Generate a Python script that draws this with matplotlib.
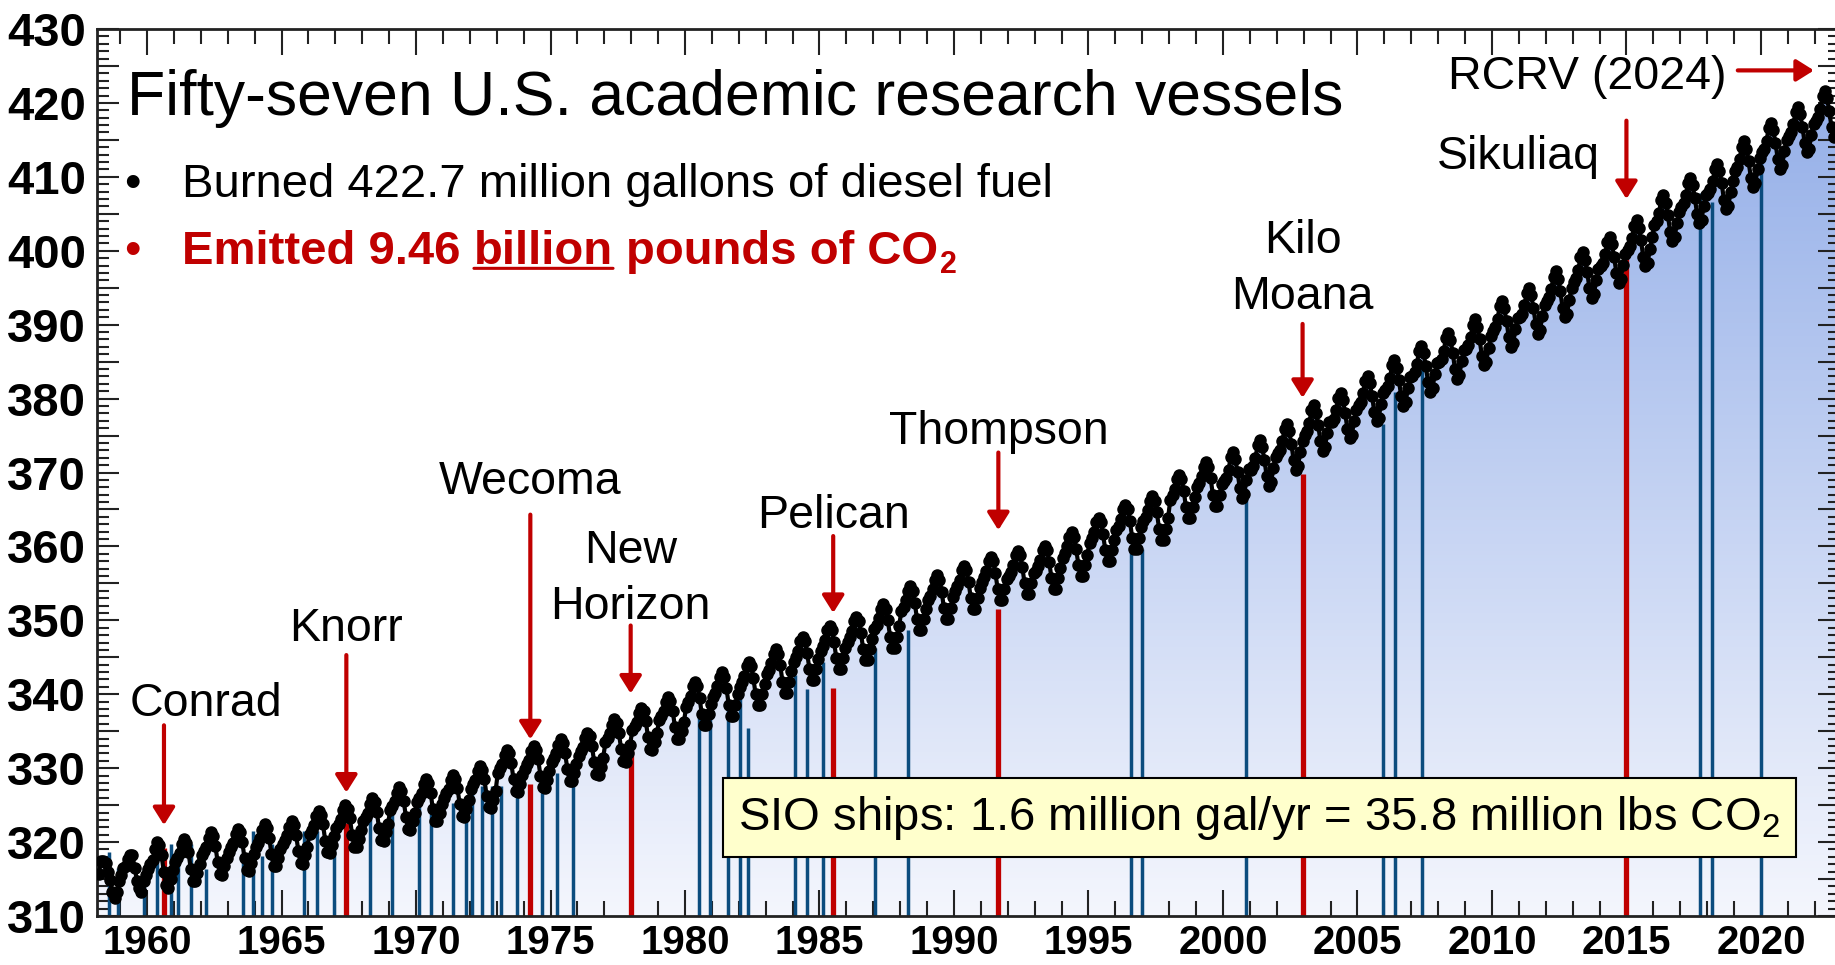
import matplotlib
matplotlib.use("Agg")
import matplotlib.pyplot as plt
import numpy as np
from matplotlib.colors import LinearSegmentedColormap
from matplotlib.ticker import MultipleLocator, FuncFormatter

# Monthly CO2 (ppm), starting March 1958
co2_1958 = [315.7, 317.5, 317.5, 317.2, 315.9, 314.9, 313.2, 312.4, 313.3, 314.7]
co2_rows = [
    [315.6, 316.5, 316.7, 317.7, 318.3, 318.2, 316.5, 314.8, 313.8, 313.3, 314.8, 315.6],  # 1959
    [316.4, 317.0, 317.6, 319.0, 320.0, 319.6, 318.2, 315.9, 314.2, 313.8, 315.0, 316.2],
    [317.3, 317.9, 318.5, 319.7, 320.4, 319.9, 318.6, 316.4, 314.8, 314.7, 315.8, 317.0],
    [318.2, 318.8, 319.4, 320.6, 321.3, 320.8, 319.5, 317.3, 315.7, 315.6, 316.7, 317.9],
    [318.7, 319.3, 319.9, 321.1, 321.8, 321.3, 320.0, 317.8, 316.2, 316.1, 317.2, 318.4],
    [319.3, 319.9, 320.5, 321.7, 322.4, 321.9, 320.6, 318.4, 316.8, 316.7, 317.8, 319.0],  # 1964
    [319.7, 320.3, 320.9, 322.1, 322.8, 322.3, 321.0, 318.8, 317.2, 317.1, 318.2, 319.4],
    [321.1, 321.7, 322.3, 323.5, 324.2, 323.7, 322.4, 320.2, 318.6, 318.5, 319.6, 320.8],
    [321.9, 322.5, 323.1, 324.3, 325.0, 324.5, 323.2, 321.0, 319.4, 319.3, 320.4, 321.6],
    [322.8, 323.4, 324.0, 325.2, 325.9, 325.4, 324.1, 321.9, 320.3, 320.2, 321.3, 322.5],
    [324.3, 324.9, 325.5, 326.7, 327.4, 326.9, 325.6, 323.4, 321.8, 321.7, 322.8, 324.0],  # 1969
    [325.4, 326.0, 326.6, 327.8, 328.5, 328.0, 326.7, 324.5, 322.9, 322.8, 323.9, 325.1],
    [326.0, 326.6, 327.2, 328.4, 329.1, 328.6, 327.3, 325.1, 323.5, 323.4, 324.5, 325.7],
    [327.2, 327.8, 328.4, 329.6, 330.3, 329.8, 328.5, 326.3, 324.7, 324.6, 325.7, 326.9],
    [329.4, 330.0, 330.6, 331.8, 332.5, 332.0, 330.7, 328.5, 326.9, 326.8, 327.9, 329.1],
    [329.9, 330.5, 331.1, 332.3, 333.0, 332.5, 331.2, 329.0, 327.4, 327.3, 328.4, 329.6],  # 1974
    [330.8, 331.4, 332.0, 333.2, 333.9, 333.4, 332.1, 329.9, 328.3, 328.2, 329.3, 330.5],
    [331.7, 332.3, 332.9, 334.1, 334.8, 334.3, 333.0, 330.8, 329.2, 329.1, 330.2, 331.4],
    [333.5, 334.1, 334.7, 335.9, 336.6, 336.1, 334.8, 332.6, 331.0, 330.9, 332.0, 333.2],
    [335.1, 335.7, 336.3, 337.5, 338.2, 337.7, 336.4, 334.2, 332.6, 332.5, 333.6, 334.8],
    [336.5, 337.1, 337.7, 338.9, 339.6, 339.1, 337.8, 335.6, 334.0, 333.9, 335.0, 336.2],  # 1979
    [338.3, 338.9, 339.8, 341.1, 341.7, 341.1, 339.5, 337.3, 335.8, 335.8, 337.3, 338.7],
    [339.6, 340.2, 341.1, 342.4, 343.0, 342.4, 340.8, 338.6, 337.1, 337.1, 338.6, 340.0],
    [341.0, 341.6, 342.5, 343.8, 344.4, 343.8, 342.2, 340.0, 338.5, 338.5, 340.0, 341.4],
    [342.7, 343.3, 344.2, 345.5, 346.1, 345.5, 343.9, 341.7, 340.2, 340.2, 341.7, 343.1],
    [344.4, 345.0, 345.9, 347.2, 347.8, 347.2, 345.6, 343.4, 341.9, 341.9, 343.4, 344.8],  # 1984
    [345.9, 346.5, 347.4, 348.7, 349.3, 348.7, 347.1, 344.9, 343.4, 343.4, 344.9, 346.3],
    [347.1, 347.7, 348.6, 349.9, 350.5, 349.9, 348.3, 346.1, 344.6, 344.6, 346.1, 347.5],
    [348.8, 349.4, 350.3, 351.6, 352.2, 351.6, 350.0, 347.8, 346.3, 346.3, 347.8, 349.2],
    [351.2, 351.8, 352.7, 354.0, 354.6, 354.0, 352.4, 350.2, 348.7, 348.7, 350.2, 351.6],
    [352.7, 353.3, 354.2, 355.5, 356.1, 355.5, 353.9, 351.7, 350.2, 350.2, 351.7, 353.1],  # 1989
    [354.0, 354.6, 355.5, 356.8, 357.4, 356.8, 355.2, 353.0, 351.5, 351.5, 353.0, 354.4],
    [355.2, 355.8, 356.7, 358.0, 358.6, 358.0, 356.4, 354.2, 352.7, 352.7, 354.2, 355.6],
    [356.0, 356.6, 357.5, 358.8, 359.4, 358.8, 357.2, 355.0, 353.5, 353.5, 355.0, 356.4],
    [356.7, 357.3, 358.2, 359.5, 360.1, 359.5, 357.9, 355.7, 354.2, 354.2, 355.7, 357.1],
    [358.5, 359.1, 360.0, 361.3, 361.9, 361.3, 359.7, 357.5, 356.0, 356.0, 357.5, 358.9],  # 1994
    [360.5, 361.1, 362.0, 363.3, 363.9, 363.3, 361.7, 359.5, 358.0, 358.0, 359.5, 360.9],
    [362.2, 362.8, 363.7, 365.0, 365.6, 365.0, 363.4, 361.2, 359.7, 359.7, 361.2, 362.6],
    [363.4, 364.0, 364.9, 366.2, 366.8, 366.2, 364.6, 362.4, 360.9, 360.9, 362.4, 363.8],
    [366.3, 366.9, 367.8, 369.1, 369.7, 369.1, 367.5, 365.3, 363.8, 363.8, 365.3, 366.7],
    [368.0, 368.6, 369.5, 370.8, 371.4, 370.8, 369.2, 367.0, 365.5, 365.5, 367.0, 368.4],  # 1999
    [368.8, 369.3, 370.4, 372.1, 372.8, 371.8, 370.1, 367.9, 366.6, 367.1, 369.0, 370.5],
    [370.4, 370.9, 372.0, 373.7, 374.4, 373.4, 371.7, 369.5, 368.2, 368.7, 370.6, 372.1],
    [372.6, 373.1, 374.2, 375.9, 376.6, 375.6, 373.9, 371.7, 370.4, 370.9, 372.8, 374.3],
    [375.1, 375.6, 376.7, 378.4, 379.1, 378.1, 376.4, 374.2, 372.9, 373.4, 375.3, 376.8],
    [376.8, 377.3, 378.4, 380.1, 380.8, 379.8, 378.1, 375.9, 374.6, 375.1, 377.0, 378.5],  # 2004
    [379.1, 379.6, 380.7, 382.4, 383.1, 382.1, 380.4, 378.2, 376.9, 377.4, 379.3, 380.8],
    [381.2, 381.7, 382.8, 384.5, 385.2, 384.2, 382.5, 380.3, 379.0, 379.5, 381.4, 382.9],
    [383.1, 383.6, 384.7, 386.4, 387.1, 386.1, 384.4, 382.2, 380.9, 381.4, 383.3, 384.8],
    [384.9, 385.4, 386.5, 388.2, 388.9, 387.9, 386.2, 384.0, 382.7, 383.2, 385.1, 386.6],
    [386.7, 387.2, 388.3, 390.0, 390.7, 389.7, 388.0, 385.8, 384.5, 385.0, 386.9, 388.4],  # 2009
    [389.2, 389.7, 390.8, 392.5, 393.2, 392.2, 390.5, 388.3, 387.0, 387.5, 389.4, 390.9],
    [391.0, 391.5, 392.6, 394.3, 395.0, 394.0, 392.3, 390.1, 388.8, 389.3, 391.2, 392.7],
    [393.2, 393.7, 394.8, 396.5, 397.2, 396.2, 394.5, 392.3, 391.0, 391.5, 393.4, 394.9],
    [395.8, 396.3, 397.4, 399.1, 399.8, 398.8, 397.1, 394.9, 393.6, 394.1, 396.0, 397.5],
    [397.9, 398.4, 399.5, 401.2, 401.9, 400.9, 399.2, 397.0, 395.7, 396.2, 398.1, 399.6],  # 2014
    [400.1, 400.6, 401.7, 403.4, 404.1, 403.1, 401.4, 399.2, 397.9, 398.4, 400.3, 401.8],
    [403.5, 404.0, 405.1, 406.8, 407.5, 406.5, 404.8, 402.6, 401.3, 401.8, 403.7, 405.2],
    [405.9, 406.4, 407.5, 409.2, 409.9, 408.9, 407.2, 405.0, 403.7, 404.2, 406.1, 407.6],
    [407.8, 408.3, 409.4, 411.1, 411.8, 410.8, 409.1, 406.9, 405.6, 406.1, 408.0, 409.5],
    [410.8, 411.3, 412.4, 414.1, 414.8, 413.8, 412.1, 409.9, 408.6, 409.1, 411.0, 412.5],  # 2019
    [413.3, 413.8, 414.9, 416.6, 417.3, 416.3, 414.6, 412.4, 411.1, 411.6, 413.5, 415.0],
    [415.5, 416.0, 417.1, 418.8, 419.5, 418.5, 416.8, 414.6, 413.3, 413.8, 415.7, 417.2],
]
co2_2022 = [417.6, 418.1, 419.2, 420.9, 421.6, 420.6, 418.9, 416.7, 415.4, 415.9]

# commissioning year of each vessel and where its line stops (ppm)
blue_years = [1958.57, 1958.93, 1959.88, 1960.38, 1960.89, 1961.14, 1961.62, 1962.20,
              1963.58, 1963.93, 1964.29, 1964.66, 1965.85, 1966.32, 1966.95, 1968.28,
              1969.11, 1970.10, 1970.57, 1971.38, 1971.85, 1972.09, 1972.46, 1972.83,
              1973.17, 1973.75, 1974.68, 1975.23, 1975.83, 1980.51, 1980.92, 1981.61,
              1982.03, 1982.35, 1984.10, 1984.52, 1985.13, 1987.08, 1988.29, 1996.57,
              1997.00, 2000.87, 2005.96, 2006.40, 2007.39, 2017.74, 2018.17, 2020.01]
blue_tops = [318.6, 316.5, 316.5, 317.4, 319.7, 318.1, 319.7, 316.3,
             318.1, 321.5, 318.1, 319.7, 321.5, 321.5, 322.6, 325.3,
             325.3, 326.8, 323.8, 325.3, 325.3, 326.8, 327.6, 327.6,
             327.6, 327.6, 329.4, 329.4, 330.4, 337.0, 338.4, 338.4,
             340.6, 335.4, 342.6, 340.7, 344.4, 346.2, 348.7, 360.0,
             359.6, 367.3, 376.6, 380.9, 385.0, 407.8, 406.6, 412.0]

named = ["Conrad", "Knorr", "Wecoma", "New\nHorizon", "Pelican", "Thompson",
         "Kilo\nMoana", "Sikuliaq"]
named_years = [1960.63, 1967.41, 1974.25, 1977.98, 1985.51, 1991.65, 2002.96, 2015.0]
named_tops = [319.2, 322.6, 327.9, 332.6, 340.8, 351.6, 369.8, 400.4]

# label placement (year, ppm of last-line baseline) and arrow start/end (ppm)
label_x = [1962.19, 1967.41, 1974.24, 1977.97, 1985.51, 1991.65, 2002.96, 2011.0]
label_y = [337.0, 347.2, 367.1, 350.2, 362.5, 373.9, 392.1, 411.1]
arrow_from = [335.8, 345.3, 364.3, 349.3, 361.4, 372.7, 390.1, 417.6]
arrow_to = [322.3, 326.7, 333.9, 340.1, 351.0, 362.2, 380.1, 407.0]

RED = "#C00000"
BLUE = "#0B4C7E"

plt.rcParams["font.family"] = ["Liberation Sans", "DejaVu Sans"]
plt.rcParams["mathtext.fontset"] = "custom"
plt.rcParams["mathtext.rm"] = "Liberation Sans"
plt.rcParams["mathtext.bf"] = "Liberation Sans:bold"

co2 = np.array(co2_1958 + [v for row in co2_rows for v in row] + co2_2022)
t = 1958 + (2 + np.arange(len(co2)) + 0.5) / 12

fig = plt.figure(figsize=(18.35, 9.65), dpi=100)
ax = fig.add_axes([97 / 1835, 49 / 965, 1743 / 1835, 887 / 965])
x0, x1 = 1958.14, 2022.94

# gradient fill under the curve
fill = ax.fill_between(t, co2, 310, color="none", lw=0)
cmap = LinearSegmentedColormap.from_list("sky", ["#F4F6FD", "#8FABE7"])
grad = np.linspace(0, 1, 256).reshape(-1, 1)
im = ax.imshow(grad, extent=[x0, x1, 310, 428], origin="lower", aspect="auto",
               cmap=cmap, zorder=1)
im.set_clip_path(fill.get_paths()[0], transform=ax.transData)

ax.vlines(blue_years, 310, blue_tops, color=BLUE, lw=2.5, zorder=2)
ax.vlines(named_years, 310, named_tops, color=RED, lw=3.8, zorder=2)

ax.plot(t, co2, "-o", color="black", ms=8, lw=3, zorder=3)

arrow_style = dict(arrowstyle="-|>,head_length=0.35,head_width=0.22", color=RED,
                   lw=3, mutation_scale=30, shrinkA=0, shrinkB=0)
for name, xl, yl, xa, ya, yb in zip(named, label_x, label_y, named_years, arrow_from, arrow_to):
    ax.text(xl, yl, name, ha="center", va="baseline", fontsize=33.5, linespacing=1.35, zorder=4)
    ax.annotate("", xy=(xa, yb), xytext=(xa, ya), arrowprops=arrow_style, zorder=4)

ax.text(2013.53, 421.9, "RCRV (2024)", ha="center", va="baseline", fontsize=33.5, zorder=4)
ax.annotate("", xy=(2021.97, 424.4), xytext=(2019.14, 424.4), arrowprops=arrow_style, zorder=4)

# text block, top left
ax.text(0.0172, 0.903, "Fifty-seven U.S. academic research vessels", transform=ax.transAxes,
        fontsize=45, va="baseline", ha="left")
ax.text(0.0203, 0.811, "\u2022", transform=ax.transAxes, fontsize=34, va="baseline", ha="center")
ax.text(0.0489, 0.811, "Burned 422.7 million gallons of diesel fuel", transform=ax.transAxes,
        fontsize=34, va="baseline", ha="left")
ax.text(0.0203, 0.7345, "\u2022", transform=ax.transAxes, fontsize=34, va="baseline",
        ha="center", color=RED)
t1 = ax.text(0.0489, 0.7345, "Emitted 9.46", transform=ax.transAxes, fontsize=34,
             va="baseline", ha="left", color=RED, weight="bold")
t2 = ax.annotate("billion", xy=(1, 0), xycoords=t1, xytext=(9.5, 0), textcoords="offset points",
                 fontsize=34, va="bottom", ha="left", color=RED, weight="bold")
ax.annotate("", xy=(1, 0.14), xycoords=t2, xytext=(0, 0.14), textcoords=t2,
            arrowprops=dict(arrowstyle="-", color=RED, lw=2.2, shrinkA=0, shrinkB=0))
t3 = ax.annotate("pounds of CO", xy=(1, 0), xycoords=t2, xytext=(9.5, 0),
                 textcoords="offset points", fontsize=34, va="bottom", ha="left",
                 color=RED, weight="bold")
ax.annotate("2", xy=(1, 0), xycoords=t3, xytext=(1, -4), textcoords="offset points",
            fontsize=22, va="bottom", ha="left", color=RED, weight="bold")

ax.text(0.6669, 0.111, "SIO ships: 1.6 million gal/yr = 35.8 million lbs CO$_2$",
        transform=ax.transAxes, fontsize=34, ha="center", va="center", zorder=6,
        bbox=dict(boxstyle="square,pad=0.33", fc="#FFFFCC", ec="black", lw=1.5))

ax.set_xlim(x0, x1)
ax.set_ylim(310, 430)
ax.xaxis.set_major_locator(MultipleLocator(5))
ax.xaxis.set_minor_locator(MultipleLocator(1))
ax.yaxis.set_major_locator(MultipleLocator(5))
ax.yaxis.set_minor_locator(MultipleLocator(1))
ax.yaxis.set_major_formatter(FuncFormatter(lambda v, p: f"{v:.0f}" if v % 10 == 0 else ""))
ax.xaxis.set_major_formatter(FuncFormatter(lambda v, p: f"{v:.0f}"))

ax.tick_params(axis="both", which="both", direction="in", top=True, right=True,
               width=1.5, color="#222222")
ax.tick_params(axis="x", which="major", length=19, pad=6)
ax.tick_params(axis="x", which="minor", length=11)
ax.tick_params(axis="y", which="major", length=16, pad=8)
ax.tick_params(axis="y", which="minor", length=8.5)
for lab in ax.get_xticklabels():
    lab.set_family(["Liberation Sans Narrow", "Liberation Sans"])
    lab.set_fontsize(29)
    lab.set_weight("bold")
for lab in ax.get_yticklabels():
    lab.set_fontsize(34)
    lab.set_weight("bold")
for sp in ax.spines.values():
    sp.set_linewidth(2)
    sp.set_color("#222222")

fig.savefig("out.png", dpi=100)
